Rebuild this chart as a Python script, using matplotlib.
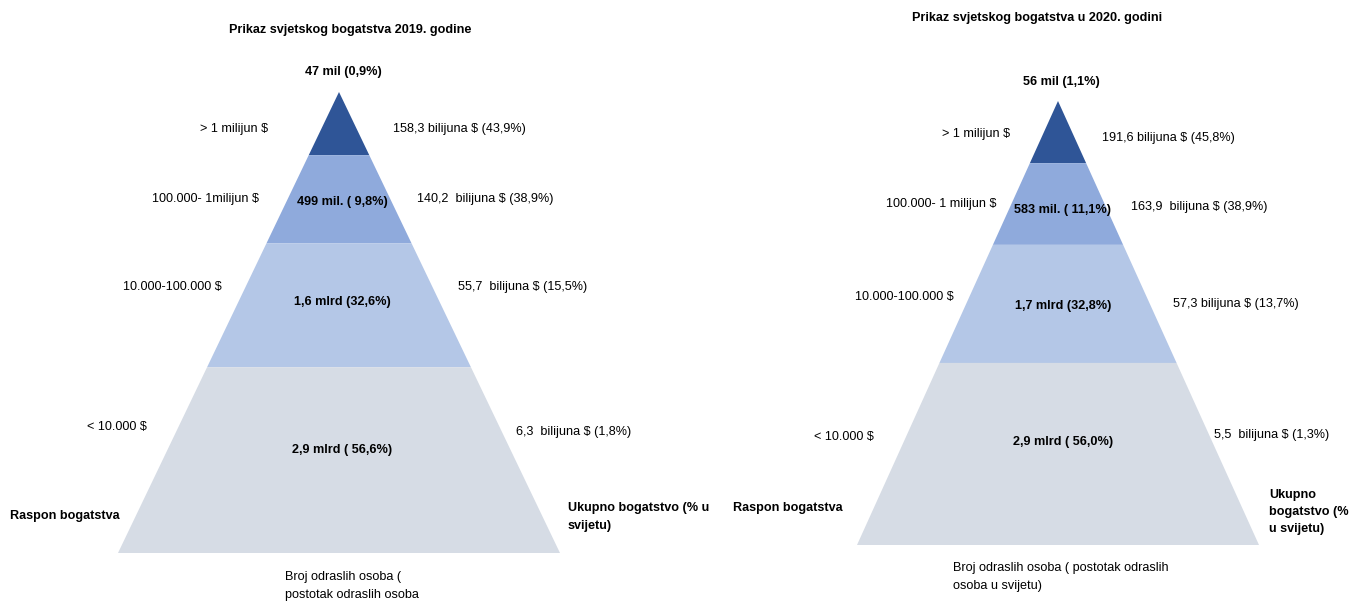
import matplotlib.pyplot as plt
from matplotlib.patches import Polygon

plt.rcParams['font.family'] = ['Liberation Sans Narrow', 'Liberation Sans', 'DejaVu Sans']

# Data for the 2019 pyramid (top layer first)
ranges_2019 = ['> 1 milijun $', '100.000- 1milijun $', '10.000-100.000 $', '< 10.000 $']
adults_2019 = ['47 mil (0,9%)', '499 mil. ( 9,8%)', '1,6 mlrd (32,6%)', '2,9 mlrd ( 56,6%)']
wealth_2019 = ['158,3 bilijuna $ (43,9%)', '140,2  bilijuna $ (38,9%)',
               '55,7  bilijuna $ (15,5%)', '6,3  bilijuna $ (1,8%)']

# Data for the 2020 pyramid (top layer first)
ranges_2020 = ['> 1 milijun $', '100.000- 1 milijun $', '10.000-100.000 $', '< 10.000 $']
adults_2020 = ['56 mil (1,1%)', '583 mil. ( 11,1%)', '1,7 mlrd (32,8%)', '2,9 mlrd ( 56,0%)']
wealth_2020 = ['191,6 bilijuna $ (45,8%)', '163,9  bilijuna $ (38,9%)',
               '57,3 bilijuna $ (13,7%)', '5,5  bilijuna $ (1,3%)']

colors = ['#2F5597', '#8FAADC', '#B4C7E7', '#D6DCE5']

fig = plt.figure(figsize=(13.52, 6.01), dpi=100)
ax = fig.add_axes([0, 0, 1, 1])
ax.set_xlim(0, 1352)
ax.set_ylim(601, 0)
ax.axis('off')


def draw_pyramid(cx, top, bottom, half, cuts):
    # cuts = fractions of the height where the layers split
    levels = [0] + cuts + [1]
    h = bottom - top
    for i in range(4):
        f0, f1 = levels[i], levels[i + 1]
        y0, y1 = top + f0 * h, top + f1 * h
        pts = [(cx - half * f0, y0), (cx + half * f0, y0),
               (cx + half * f1, y1), (cx - half * f1, y1)]
        ax.add_patch(Polygon(pts, closed=True, color=colors[i], lw=0))


fs = 9.1

# ---- 2019 ----
draw_pyramid(339, 92, 553, 221, [0.137, 0.328, 0.597])
ax.text(350, 30, 'Prikaz svjetskog bogatstva 2019. godine', ha='center', va='center',
        fontsize=fs, fontweight='bold')
ax.text(343, 72, adults_2019[0], ha='center', va='center', fontsize=fs, fontweight='bold')
left_y = [129, 199, 287, 427]
left_x = [268, 259, 222, 147]
right_x = [393, 417, 458, 516]
right_y = [129, 199, 287, 432]
mid_y = [None, 202, 302, 450]
for i in range(4):
    ax.text(left_x[i], left_y[i], ranges_2019[i], ha='right', va='center', fontsize=fs)
    ax.text(right_x[i], right_y[i], wealth_2019[i], ha='left', va='center', fontsize=fs)
    if i > 0:
        ax.text(342, mid_y[i], adults_2019[i], ha='center', va='center',
                fontsize=fs, fontweight='bold')
ax.text(10, 516, 'Raspon bogatstva', ha='left', va='center', fontsize=fs, fontweight='bold')
ax.text(568, 517, 'Ukupno bogatstvo (% u\nsvijetu)', ha='left', va='center',
        fontsize=fs, fontweight='bold', linespacing=1.6)
ax.text(285, 586, 'Broj odraslih osoba (\npostotak odraslih osoba', ha='left', va='center',
        fontsize=fs, linespacing=1.6)

# ---- 2020 ----
draw_pyramid(1058, 101, 545, 201, [0.140, 0.324, 0.590])
ax.text(1037, 18, 'Prikaz svjetskog bogatstva u 2020. godini', ha='center', va='center',
        fontsize=fs, fontweight='bold')
ax.text(1061, 82, adults_2020[0], ha='center', va='center', fontsize=fs, fontweight='bold')
left_y = [134, 204, 297, 437]
left_x = [1010, 996, 954, 874]
right_x = [1102, 1131, 1173, 1214]
right_y = [138, 207, 304, 435]
mid_y = [None, 210, 306, 442]
for i in range(4):
    ax.text(left_x[i], left_y[i], ranges_2020[i], ha='right', va='center', fontsize=fs)
    ax.text(right_x[i], right_y[i], wealth_2020[i], ha='left', va='center', fontsize=fs)
    if i > 0:
        ax.text(1063, mid_y[i], adults_2020[i], ha='center', va='center',
                fontsize=fs, fontweight='bold')
ax.text(733, 508, 'Raspon bogatstva', ha='left', va='center', fontsize=fs, fontweight='bold')
ax.text(1269, 512, 'Ukupno\nbogatstvo (%\nu svijetu)', ha='left', va='center',
        fontsize=fs, fontweight='bold', linespacing=1.6)
ax.text(953, 577, 'Broj odraslih osoba ( postotak odraslih\nosoba u svijetu)', ha='left',
        va='center', fontsize=fs, linespacing=1.6)

fig.savefig('out.png', dpi=100)
